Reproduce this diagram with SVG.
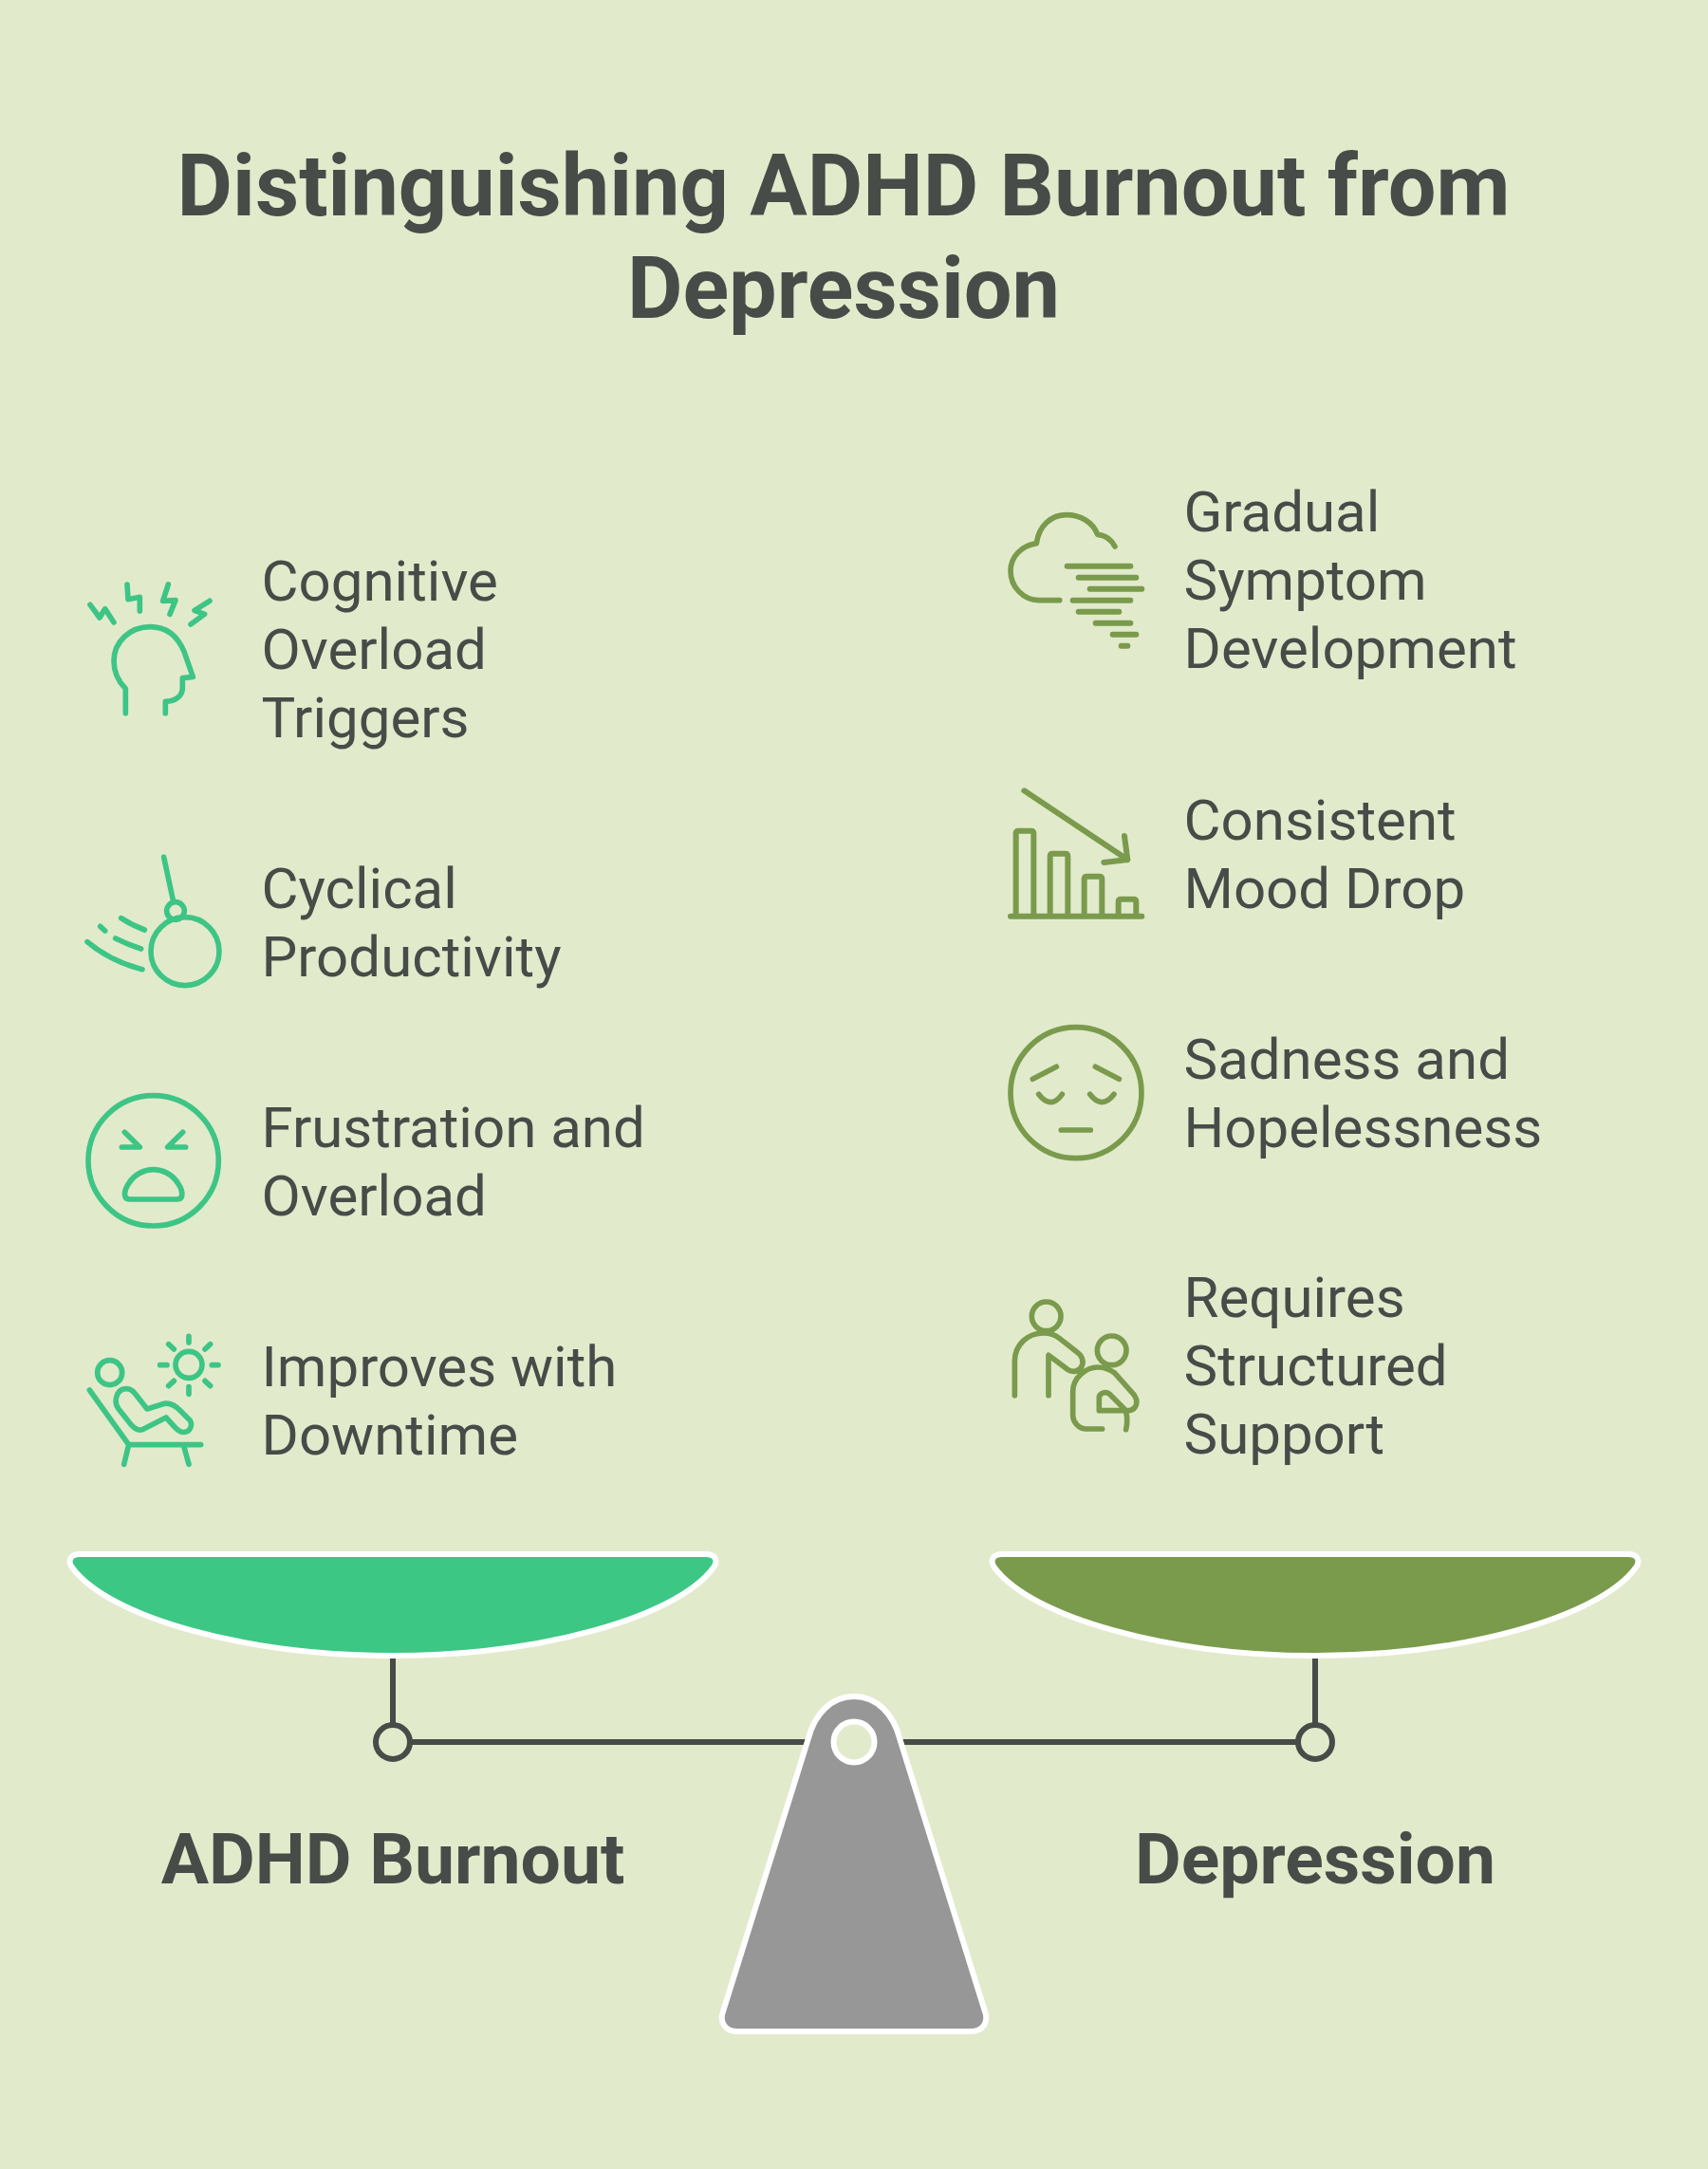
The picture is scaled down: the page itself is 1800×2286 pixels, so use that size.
<svg xmlns="http://www.w3.org/2000/svg" width="1800" height="2286" viewBox="0 0 1800 2286">
<style>
text{font-family:Roboto,"Liberation Sans",sans-serif;fill:#484c48}
.t{font-size:90px;font-weight:700;text-anchor:middle}
.b{font-size:60px}
.l{font-size:75px;font-weight:700;text-anchor:middle}
.ic{fill:none;stroke-width:17;stroke-linecap:round;stroke-linejoin:round}
.g{stroke:#3dc585}
.o{stroke:#7a9a4c}
.ln{fill:none;stroke:#484c48;stroke-width:6;stroke-linecap:round}
.pan{stroke:#fff;stroke-width:6}
</style>
<rect width="1800" height="2286" fill="#e2eacc"/>
<g id="title"><text class="t" x="889" y="227">Distinguishing ADHD Burnout from</text><text class="t" x="889" y="335">Depression</text></g>
<g id="connectors">
<path class="ln" d="M414 1747V1818M432 1836H850M948 1836H1368M1386 1747V1818"/>
<circle class="ln" cx="414" cy="1836" r="18"/><circle class="ln" cx="1386" cy="1836" r="18"/>
</g>
<g id="pan-left"><path class="pan" fill="#3dc785" d="M84 1638H744C754 1638 757 1645 752 1652C713 1705 568 1745 414 1745C260 1745 115 1705 76 1652C71 1645 74 1638 84 1638Z"/></g>
<g id="pan-right"><path class="pan" fill="#7a9b4b" d="M1056 1638H1716C1726 1638 1729 1645 1724 1652C1685 1705 1540 1745 1386 1745C1232 1745 1087 1705 1048 1652C1043 1645 1046 1638 1056 1638Z"/></g>
<g id="fulcrum"><path class="pan" fill="#979797" d="M777 2141H1023C1036 2141 1042 2131 1038 2120L948 1832C942 1808 925 1788 900 1788C875 1788 858 1808 852 1832L762 2120C758 2131 764 2141 777 2141Z"/><circle cx="900" cy="1836" r="21.500" fill="#e2eacc" stroke="#fff" stroke-width="6"/></g>
<g id="label-adhd"><text class="l" x="414" y="1985">ADHD Burnout</text></g>
<g id="label-depression"><text class="l" x="1386" y="1985">Depression</text></g>

<g id="item-cognitive"><g class="ic g" transform="translate(70 590) scale(.3333)"><path d="M187 485V407C165 385 150 355 150 320C150 260 200 212 265 212C325 212 355 250 372 290L400 370L367 374V405C367 430 345 448 313 448V485M75 142L105 183L122 155L150 198M192 78L195 125L232 118L232 162M322 78L305 130L345 128L327 172M453 130L405 160L437 172L393 204"/></g><text class="b" x="275.500" y="632.500">Cognitive</text><text class="b" x="275.500" y="704.500">Overload</text><text class="b" x="275.500" y="776.500">Triggers</text></g>

<g id="item-cyclical"><g class="ic g" transform="translate(70 885) scale(.3333)"><path d="M308 55L338 195M173 248Q210 272 247 285M155 312Q195 332 236 345M107 274L122 288M66 323Q140 385 240 410"/><circle cx="345" cy="225" r="28"/><circle cx="375" cy="353" r="108"/></g><text class="b" x="275.500" y="956.500">Cyclical</text><text class="b" x="275.500" y="1028.500">Productivity</text></g>

<g id="item-frustration"><g class="ic g" transform="translate(70 1140) scale(.3333)"><circle cx="275" cy="250" r="206"/><path d="M184 160L232 207H175M368 160L320 207H377M200 372H350C372 372 368 345 355 325C335 290 300 278 275 278C250 278 215 290 195 325C182 345 178 372 200 372Z"/></g><text class="b" x="275.500" y="1208.500">Frustration and</text><text class="b" x="275.500" y="1280.500">Overload</text></g>

<g id="item-downtime"><g class="ic g" transform="translate(70 1390) scale(.3333)"><circle cx="387" cy="145" r="42"/><circle cx="137" cy="170" r="39"/><path d="M387 55V75M387 215V238M296 146H318M460 146H480M323 80L340 96M455 80L438 96M323 212L340 196M455 212L438 196M73 225L197 398H425M197 398L182 460M370 398L387 460M180 222C195 218 210 225 220 240L255 285L310 268C330 265 345 275 360 290L390 320C400 335 392 355 375 358C365 360 355 355 345 345L315 312L240 350C225 355 215 345 205 335L165 285C150 265 155 230 180 222Z"/></g><text class="b" x="275.500" y="1460.500">Improves with</text><text class="b" x="275.500" y="1532.500">Downtime</text></g>

<g id="item-gradual"><g class="ic o" transform="translate(1050 530) scale(.3333)"><path d="M375 138C365 118 345 102 320 100C305 60 265 38 222 38C175 38 135 70 127 128C80 135 45 170 45 215C45 265 85 308 135 308H200"/><path stroke-width="18" d="M224 200H424M260 236H442M296 272H460M242 308H424M260 344H388M314 380H424M368 416H442M395 452H415"/></g><text class="b" x="1247.500" y="560">Gradual</text><text class="b" x="1247.500" y="632">Symptom</text><text class="b" x="1247.500" y="704">Development</text></g>

<g id="item-mood"><g class="ic o" transform="translate(1050 820) scale(.3333)"><path stroke-width="18" d="M45 437H460M62 437V175Q62 167 70 167H110Q118 167 118 175V437M170 437V247Q170 239 178 239H218Q226 239 226 247V437M278 437V319Q278 311 286 311H326Q334 311 334 319V437M386 437V391Q386 383 394 383H434Q442 383 442 391V437M88 40L415 258M405 183L415 258L340 267"/></g><text class="b" x="1247.500" y="884.500">Consistent</text><text class="b" x="1247.500" y="956.500">Mood Drop</text></g>

<g id="item-sadness"><g class="ic o" transform="translate(1050 1070) scale(.3333)"><circle cx="252" cy="245" r="207"/><path d="M115 202L190 163M313 163L388 202M134 250Q172 300 208 250M296 250Q334 300 372 250M205 363H298"/></g><text class="b" x="1247.500" y="1136.500">Sadness and</text><text class="b" x="1247.500" y="1208.500">Hopelessness</text></g>

<g id="item-support"><g class="ic o" transform="translate(1050 1360) scale(.3333)"><circle cx="158" cy="82" r="46"/><circle cx="365" cy="190" r="46"/><path d="M58 332V225C58 170 100 135 150 135C170 135 185 140 200 152L255 195C270 205 278 225 270 240C262 258 240 260 225 250L165 205V332M335 438H285C260 438 242 415 242 395V320C242 275 285 243 320 243C345 243 360 250 375 262L435 330C450 350 445 375 420 380H325V340C325 325 345 318 358 328L405 375C415 390 415 420 410 440"/></g><text class="b" x="1247.500" y="1388">Requires</text><text class="b" x="1247.500" y="1460">Structured</text><text class="b" x="1247.500" y="1532">Support</text></g>
</svg>
